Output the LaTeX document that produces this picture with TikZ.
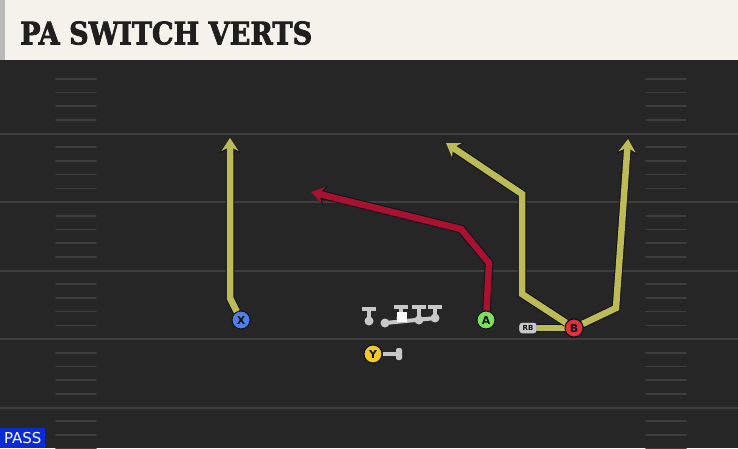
\documentclass[tikz,border=0pt]{standalone}
\usepackage{graphicx}
\usepackage{fontspec}
\setmainfont{DejaVu Sans}
\newfontfamily\titlefont[BoldFeatures={FakeBold=2.5}]{DejaVu Serif}
\usepackage{xcolor}
\usepackage{tikz}
\usetikzlibrary{arrows.meta}

\definecolor{fieldgray}{HTML}{262626}
\definecolor{headercream}{HTML}{F4F2EB}
\definecolor{yardgray}{HTML}{3E3E3E}
\definecolor{routeyellow}{HTML}{BDBB55}
\definecolor{routered}{HTML}{A8112F}
\definecolor{edgedark}{HTML}{12121C}
\definecolor{xblue}{HTML}{4C82E6}
\definecolor{agreen}{HTML}{7EE05A}
\definecolor{bred}{HTML}{E2303C}
\definecolor{yyellow}{HTML}{F2C92A}
\definecolor{linegray}{HTML}{C8C8C8}
\definecolor{passblue}{HTML}{0A2AD6}

\tikzset{
  player/.style={circle, draw=edgedark, line width=1pt, inner sep=0pt,
    minimum size=18pt, text=edgedark, font=\bfseries\fontsize{11}{11}\selectfont},
  routeback/.style={draw=edgedark, line width=8.5pt, line join=miter},
  routeback tip/.style={routeback, -{Stealth[length=15pt,width=20pt,inset=5pt]}},
  routeline/.style={line width=6.5pt, line join=miter},
  routeline tip/.style={routeline, -{Stealth[length=13pt,width=17pt,inset=4.5pt]}},
  yardline/.style={draw=yardgray, line width=2pt},
  hashmark/.style={draw=yardgray, line width=1.6pt, line cap=round},
  lineman/.style={draw=linegray, line width=4pt}
}

\begin{document}
\begin{tikzpicture}[x=1pt,y=-1pt]
\useasboundingbox (0,0) rectangle (738,448);
\fill[fieldgray] (0,0) rectangle (738,448);
\fill[headercream] (0,0) rectangle (738,60);
\fill[gray!55] (0,0) rectangle (5,60);
\fill[black!85] (0,60) rectangle (738,64);
\node[anchor=south west, inner sep=0pt, text=black!88] (title) at (20,45)
  {\resizebox{292pt}{23pt}{\titlefont\bfseries PA SWITCH VERTS}};

\foreach \y in {133.5,202,270.5,339,407.5}
  \draw[yardline] (0,\y) -- (738,\y);
\begin{scope}
\clip (0,64) rectangle (738,448);
\foreach \n in {0,...,5}
  \foreach \k in {1,...,4} {
    \draw[hashmark] (56,65+68.5*\n+13.7*\k) -- (96,65+68.5*\n+13.7*\k);
    \draw[hashmark] (646,65+68.5*\n+13.7*\k) -- (686,65+68.5*\n+13.7*\k);
  }
\end{scope}

\node[player, fill=xblue] (X) at (241,320) {X};
\node[player, fill=yyellow] (Y) at (373,354) {Y};
\node[player, fill=agreen] (A) at (486,320) {A};
\node[player, fill=bred] (B) at (574,328) {B};
\node[draw=edgedark, fill=linegray, rounded corners=3pt, inner sep=0pt,
  minimum width=18pt, minimum height=11pt, text=edgedark,
  font=\bfseries\fontsize{7}{7}\selectfont] (RB) at (528,328) {RB};

\coordinate (xbend) at (230,298);
\coordinate (xtip) at (230,138);
\coordinate (abend1) at (489,263);
\coordinate (abend2) at (461,229);
\coordinate (atip) at (311,192);
\coordinate (bbend1) at (522,294);
\coordinate (bbend2) at (522,194);
\coordinate (btip1) at (446,143);
\coordinate (bbend3) at (616,308);
\coordinate (btip2) at (628,139);

\draw[routeback tip] (X) -- (xbend) -- (xtip);
\draw[routeline tip, routeyellow] (X) -- (xbend) -- (xtip);
\draw[routeback tip] (A) -- (abend1) -- (abend2) -- (atip);
\draw[routeline tip, routered] (A) -- (abend1) -- (abend2) -- (atip);
\draw[routeback] (RB) -- (B);
\draw[routeline, routeyellow] (RB) -- (B);
\draw[routeback tip] (B) -- (bbend1) -- (bbend2) -- (btip1);
\draw[routeline tip, routeyellow] (B) -- (bbend1) -- (bbend2) -- (btip1);
\draw[routeback tip] (B) -- (bbend3) -- (btip2);
\draw[routeline tip, routeyellow] (B) -- (bbend3) -- (btip2);
\node[player, fill=bred] at (B) {B};

\draw[lineman] (369,308) -- (369,320);
\draw[lineman] (362,309) -- (376,309);
\fill[linegray] (369,321) circle (4.5);
\draw[lineman, line cap=round] (385,323) -- (436,318);
\fill[linegray] (385,323) circle (4.5);
\foreach \x/\yb in {401/318,419/320,435/318} {
  \draw[lineman] (\x,307) -- (\x,\yb);
  \draw[lineman] (\x-7,307) -- (\x+7,307);
  \fill[linegray] (\x,\yb) circle (4.5);
}
\fill[white] (397,312) rectangle (407,322);

\coordinate (yblock) at (399,354);
\draw[lineman] (Y) -- (yblock);
\node[fill=linegray, rounded corners=2pt, inner sep=0pt,
  minimum width=6pt, minimum height=12pt] (yend) at (yblock) {};

\node[anchor=south west, fill=passblue, text=white, inner sep=0pt,
  minimum width=45pt, minimum height=20pt,
  font=\fontsize{15}{15}\selectfont] (pass) at (0,448) {PASS};
\end{tikzpicture}
\end{document}
